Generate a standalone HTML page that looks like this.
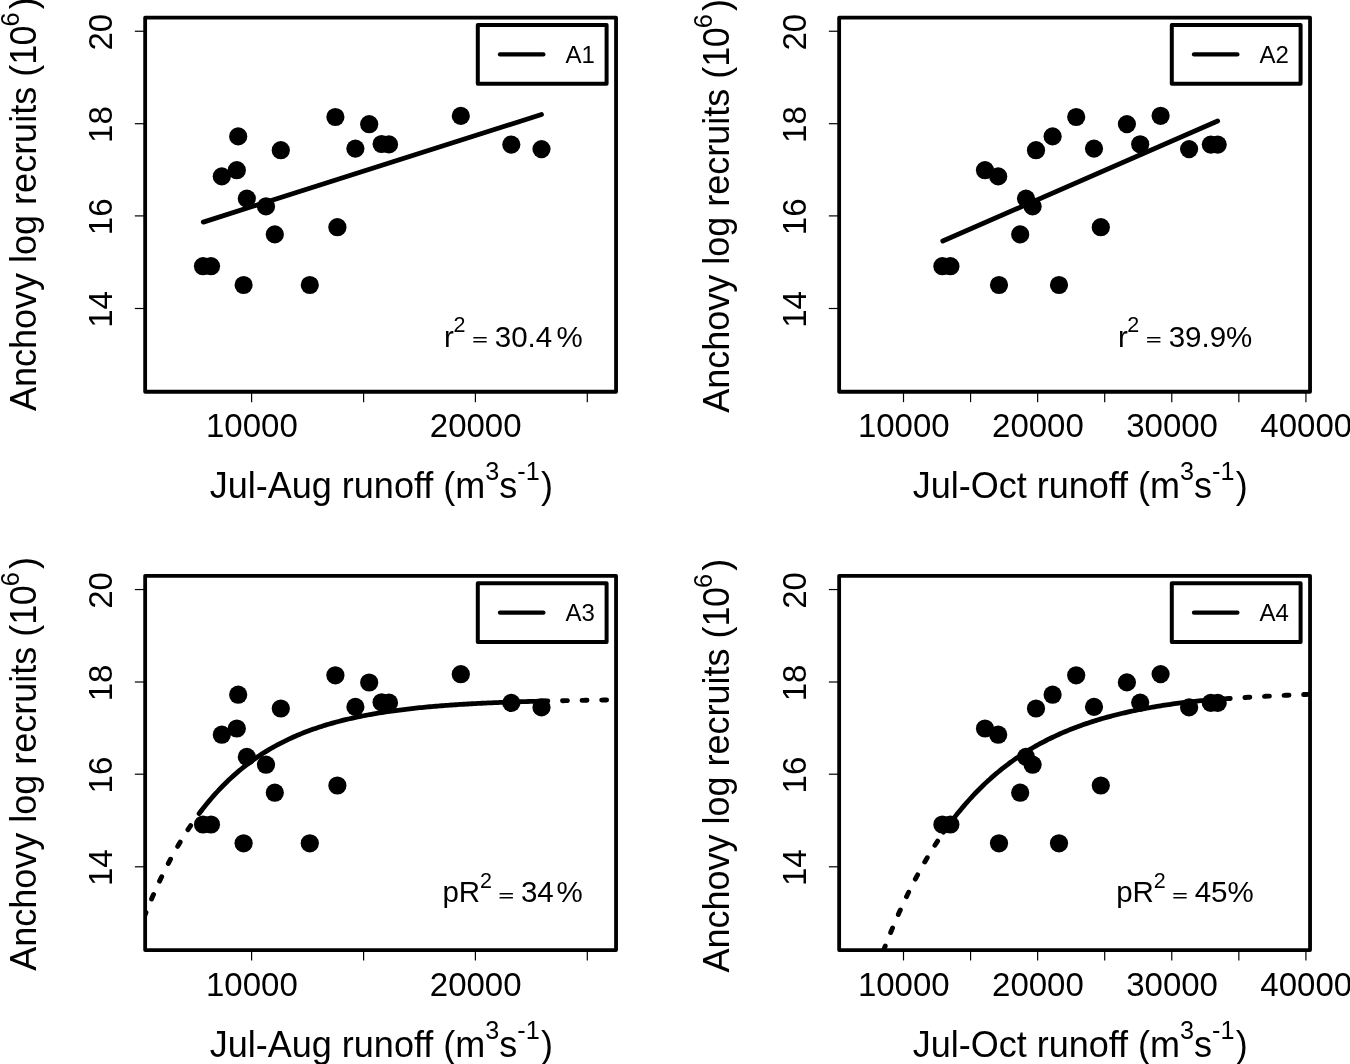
<!DOCTYPE html>
<html><head><meta charset="utf-8"><title>Anchovy recruits vs runoff</title>
<style>
html,body{margin:0;padding:0;background:#fff;}
body{width:1350px;height:1064px;overflow:hidden;}
svg{display:block;will-change:transform;font-family:"Liberation Sans", Arial, Helvetica, sans-serif;fill:#000;}
.tk{stroke:#000;stroke-width:1.2;}
.fr{fill:none;stroke:#000;stroke-width:3.8;stroke-linejoin:round;}
.lg{fill:#fff;stroke:#000;stroke-width:4;stroke-linejoin:round;}
.ln{fill:none;stroke:#000;stroke-width:4.8;stroke-linecap:round;stroke-linejoin:round;}
.dt{stroke-dasharray:4.9 14.7;stroke-width:4.9;}
.ll{stroke:#000;stroke-width:4.3;stroke-linecap:round;}
.tl{font-size:33px;}
.al{font-size:36px;}
.lt{font-size:24px;}
.rt{font-size:29.5px;}
</style></head><body>
<svg width="1350" height="1064" viewBox="0 0 1350 1064">
<rect width="1350" height="1064" fill="#fff"/>
<g transform="translate(0.00 0.00)">
<clipPath id="c0"><rect x="145.15" y="17.55" width="470.90" height="374.20"/></clipPath>
<line x1="134.85" y1="31.25" x2="145.15" y2="31.25" class="tk"/>
<text class="tl" text-anchor="middle" transform="translate(111.6 32.15) rotate(-90)">20</text>
<line x1="134.85" y1="123.70" x2="145.15" y2="123.70" class="tk"/>
<text class="tl" text-anchor="middle" transform="translate(111.6 124.60) rotate(-90)">18</text>
<line x1="134.85" y1="215.90" x2="145.15" y2="215.90" class="tk"/>
<text class="tl" text-anchor="middle" transform="translate(111.6 216.80) rotate(-90)">16</text>
<line x1="134.85" y1="308.50" x2="145.15" y2="308.50" class="tk"/>
<text class="tl" text-anchor="middle" transform="translate(111.6 309.40) rotate(-90)">14</text>
<line x1="251.60" y1="391.75" x2="251.60" y2="402.15" class="tk"/>
<text class="tl" text-anchor="middle" x="251.90" y="437.4">10000</text>
<line x1="363.60" y1="391.75" x2="363.60" y2="402.15" class="tk"/>
<line x1="475.40" y1="391.75" x2="475.40" y2="402.15" class="tk"/>
<text class="tl" text-anchor="middle" x="475.70" y="437.4">20000</text>
<line x1="587.30" y1="391.75" x2="587.30" y2="402.15" class="tk"/>
<g clip-path="url(#c0)">
<circle cx="203.0" cy="266.2" r="9.1"/>
<circle cx="211.0" cy="266.2" r="9.1"/>
<circle cx="221.8" cy="176.4" r="9.1"/>
<circle cx="236.8" cy="170.2" r="9.1"/>
<circle cx="238.2" cy="136.4" r="9.1"/>
<circle cx="246.8" cy="198.6" r="9.1"/>
<circle cx="243.6" cy="285.0" r="9.1"/>
<circle cx="266.0" cy="206.4" r="9.1"/>
<circle cx="274.8" cy="234.4" r="9.1"/>
<circle cx="280.8" cy="150.2" r="9.1"/>
<circle cx="309.8" cy="285.0" r="9.1"/>
<circle cx="335.4" cy="117.0" r="9.1"/>
<circle cx="337.4" cy="227.2" r="9.1"/>
<circle cx="355.4" cy="148.6" r="9.1"/>
<circle cx="369.2" cy="124.2" r="9.1"/>
<circle cx="381.6" cy="144.0" r="9.1"/>
<circle cx="389.0" cy="144.4" r="9.1"/>
<circle cx="460.8" cy="115.9" r="9.1"/>
<circle cx="511.3" cy="144.6" r="9.1"/>
<circle cx="541.5" cy="149.1" r="9.1"/>
<line class="ln" x1="203.3" y1="222.1" x2="541.5" y2="114.5"/>
</g>
<rect class="fr" x="145.15" y="17.55" width="470.90" height="374.20"/>
<rect class="lg" x="477.8" y="25.05" width="128.8" height="58.65"/>
<line class="ll" x1="500" y1="54.4" x2="543.4" y2="54.4"/>
<text class="lt" x="565.6" y="63">A1</text>
<text class="rt" y="346.5"><tspan x="443.9">r</tspan><tspan x="453.5" font-size="21.5" dy="-14.4">2</tspan><tspan dy="14.4"> </tspan><tspan x="494.8">30.4</tspan><tspan x="556.6">%</tspan></text><text class="rt" font-weight="bold" transform="translate(472.3 345.25) scale(0.9 0.5)">=</text>
<text class="al" x="209.8" y="497.9">Jul-Aug runoff (m<tspan font-size="25.2" dy="-17.5">3</tspan><tspan dy="17.5">s</tspan><tspan font-size="25.2" dy="-17.5">-1</tspan><tspan dy="17.5" dx="1.3">)</tspan></text>
<text class="al" transform="translate(36.2 411.0) rotate(-90)">Anchovy log recruits (1<tspan dx="-0.6">0</tspan><tspan font-size="25.2" dy="-17.5" dx="-1.1">6</tspan><tspan dy="17.5" dx="3.3">)</tspan></text>
</g>
<g transform="translate(694.00 0.00)">
<clipPath id="c1"><rect x="145.15" y="17.55" width="470.90" height="374.20"/></clipPath>
<line x1="134.85" y1="31.25" x2="145.15" y2="31.25" class="tk"/>
<text class="tl" text-anchor="middle" transform="translate(111.6 32.15) rotate(-90)">20</text>
<line x1="134.85" y1="123.70" x2="145.15" y2="123.70" class="tk"/>
<text class="tl" text-anchor="middle" transform="translate(111.6 124.60) rotate(-90)">18</text>
<line x1="134.85" y1="215.90" x2="145.15" y2="215.90" class="tk"/>
<text class="tl" text-anchor="middle" transform="translate(111.6 216.80) rotate(-90)">16</text>
<line x1="134.85" y1="308.50" x2="145.15" y2="308.50" class="tk"/>
<text class="tl" text-anchor="middle" transform="translate(111.6 309.40) rotate(-90)">14</text>
<line x1="209.50" y1="391.75" x2="209.50" y2="402.15" class="tk"/>
<text class="tl" text-anchor="middle" x="209.80" y="437.4">10000</text>
<line x1="276.57" y1="391.75" x2="276.57" y2="402.15" class="tk"/>
<line x1="343.64" y1="391.75" x2="343.64" y2="402.15" class="tk"/>
<text class="tl" text-anchor="middle" x="343.94" y="437.4">20000</text>
<line x1="410.71" y1="391.75" x2="410.71" y2="402.15" class="tk"/>
<line x1="477.78" y1="391.75" x2="477.78" y2="402.15" class="tk"/>
<text class="tl" text-anchor="middle" x="478.08" y="437.4">30000</text>
<line x1="544.85" y1="391.75" x2="544.85" y2="402.15" class="tk"/>
<line x1="611.92" y1="391.75" x2="611.92" y2="402.15" class="tk"/>
<text class="tl" text-anchor="middle" x="612.22" y="437.4">40000</text>
<g clip-path="url(#c1)">
<circle cx="248.4" cy="266.2" r="9.1"/>
<circle cx="256.4" cy="266.2" r="9.1"/>
<circle cx="291.0" cy="170.2" r="9.1"/>
<circle cx="304.2" cy="176.4" r="9.1"/>
<circle cx="305.0" cy="285.0" r="9.1"/>
<circle cx="326.2" cy="234.4" r="9.1"/>
<circle cx="332.0" cy="198.6" r="9.1"/>
<circle cx="338.6" cy="206.4" r="9.1"/>
<circle cx="342.0" cy="150.2" r="9.1"/>
<circle cx="358.6" cy="136.4" r="9.1"/>
<circle cx="365.0" cy="285.0" r="9.1"/>
<circle cx="382.2" cy="117.0" r="9.1"/>
<circle cx="400.0" cy="148.6" r="9.1"/>
<circle cx="406.8" cy="227.2" r="9.1"/>
<circle cx="432.9" cy="124.1" r="9.1"/>
<circle cx="446.2" cy="144.3" r="9.1"/>
<circle cx="466.6" cy="115.8" r="9.1"/>
<circle cx="495.1" cy="149.1" r="9.1"/>
<circle cx="516.8" cy="144.6" r="9.1"/>
<circle cx="523.7" cy="144.6" r="9.1"/>
<line class="ln" x1="248.8" y1="241" x2="523.7" y2="121"/>
</g>
<rect class="fr" x="145.15" y="17.55" width="470.90" height="374.20"/>
<rect class="lg" x="477.8" y="25.05" width="128.8" height="58.65"/>
<line class="ll" x1="500" y1="54.4" x2="543.4" y2="54.4"/>
<text class="lt" x="565.6" y="63">A2</text>
<text class="rt" y="346.5"><tspan x="424.0">r</tspan><tspan x="433.3" font-size="21.5" dy="-14.4">2</tspan><tspan dy="14.4"> </tspan><tspan x="474.7">39.9%</tspan></text><text class="rt" font-weight="bold" transform="translate(452.1 345.25) scale(0.9 0.5)">=</text>
<text class="al" x="218.7" y="497.9">Jul-Oct runoff (m<tspan font-size="25.2" dy="-17.5">3</tspan><tspan dy="17.5">s</tspan><tspan font-size="25.2" dy="-17.5">-1</tspan><tspan dy="17.5" dx="1.3">)</tspan></text>
<text class="al" transform="translate(35.2 412.8) rotate(-90)">Anchovy log recruits (1<tspan dx="-0.6">0</tspan><tspan font-size="25.2" dy="-17.5" dx="-1.1">6</tspan><tspan dy="17.5" dx="3.3">)</tspan></text>
</g>
<g transform="translate(0.00 558.30)">
<clipPath id="c2"><rect x="145.15" y="17.55" width="470.90" height="374.20"/></clipPath>
<line x1="134.85" y1="31.25" x2="145.15" y2="31.25" class="tk"/>
<text class="tl" text-anchor="middle" transform="translate(111.6 32.15) rotate(-90)">20</text>
<line x1="134.85" y1="123.70" x2="145.15" y2="123.70" class="tk"/>
<text class="tl" text-anchor="middle" transform="translate(111.6 124.60) rotate(-90)">18</text>
<line x1="134.85" y1="215.90" x2="145.15" y2="215.90" class="tk"/>
<text class="tl" text-anchor="middle" transform="translate(111.6 216.80) rotate(-90)">16</text>
<line x1="134.85" y1="308.50" x2="145.15" y2="308.50" class="tk"/>
<text class="tl" text-anchor="middle" transform="translate(111.6 309.40) rotate(-90)">14</text>
<line x1="251.60" y1="391.75" x2="251.60" y2="402.15" class="tk"/>
<text class="tl" text-anchor="middle" x="251.90" y="437.4">10000</text>
<line x1="363.60" y1="391.75" x2="363.60" y2="402.15" class="tk"/>
<line x1="475.40" y1="391.75" x2="475.40" y2="402.15" class="tk"/>
<text class="tl" text-anchor="middle" x="475.70" y="437.4">20000</text>
<line x1="587.30" y1="391.75" x2="587.30" y2="402.15" class="tk"/>
<g clip-path="url(#c2)">
<circle cx="203.0" cy="266.2" r="9.1"/>
<circle cx="211.0" cy="266.2" r="9.1"/>
<circle cx="221.8" cy="176.4" r="9.1"/>
<circle cx="236.8" cy="170.2" r="9.1"/>
<circle cx="238.2" cy="136.4" r="9.1"/>
<circle cx="246.8" cy="198.6" r="9.1"/>
<circle cx="243.6" cy="285.0" r="9.1"/>
<circle cx="266.0" cy="206.4" r="9.1"/>
<circle cx="274.8" cy="234.4" r="9.1"/>
<circle cx="280.8" cy="150.2" r="9.1"/>
<circle cx="309.8" cy="285.0" r="9.1"/>
<circle cx="335.4" cy="117.0" r="9.1"/>
<circle cx="337.4" cy="227.2" r="9.1"/>
<circle cx="355.4" cy="148.6" r="9.1"/>
<circle cx="369.2" cy="124.2" r="9.1"/>
<circle cx="381.6" cy="144.0" r="9.1"/>
<circle cx="389.0" cy="144.4" r="9.1"/>
<circle cx="460.8" cy="115.9" r="9.1"/>
<circle cx="511.3" cy="144.6" r="9.1"/>
<circle cx="541.5" cy="149.1" r="9.1"/>
<path class="ln" d="M201.20 252.59 L203.20 249.99 L205.21 247.46 L207.21 244.99 L209.22 242.57 L211.22 240.21 L213.23 237.90 L215.23 235.65 L217.24 233.45 L219.24 231.30 L221.25 229.20 L223.25 227.15 L225.26 225.14 L227.26 223.19 L229.27 221.27 L231.27 219.41 L233.27 217.58 L235.28 215.80 L237.28 214.06 L239.29 212.36 L241.29 210.70 L243.30 209.08 L245.30 207.49 L247.31 205.95 L249.31 204.43 L251.32 202.96 L253.32 201.51 L255.33 200.11 L257.33 198.73 L259.33 197.38 L261.34 196.07 L263.34 194.79 L265.35 193.54 L267.35 192.31 L269.36 191.12 L271.36 189.95 L273.37 188.81 L275.37 187.69 L277.38 186.60 L279.38 185.54 L281.39 184.50 L283.39 183.49 L285.40 182.50 L287.40 181.53 L289.40 180.58 L291.41 179.66 L293.41 178.76 L295.42 177.88 L297.42 177.02 L299.43 176.17 L301.43 175.35 L303.44 174.55 L305.44 173.77 L307.45 173.00 L309.45 172.25 L311.46 171.52 L313.46 170.81 L315.47 170.11 L317.47 169.43 L319.47 168.77 L321.48 168.12 L323.48 167.48 L325.49 166.86 L327.49 166.26 L329.50 165.67 L331.50 165.09 L333.51 164.52 L335.51 163.97 L337.52 163.44 L339.52 162.91 L341.53 162.40 L343.53 161.89 L345.53 161.40 L347.54 160.92 L349.54 160.46 L351.55 160.00 L353.55 159.55 L355.56 159.12 L357.56 158.69 L359.57 158.28 L361.57 157.87 L363.58 157.47 L365.58 157.09 L367.59 156.71 L369.59 156.34 L371.60 155.98 L373.60 155.62 L375.60 155.28 L377.61 154.94 L379.61 154.61 L381.62 154.29 L383.62 153.98 L385.63 153.67 L387.63 153.37 L389.64 153.08 L391.64 152.79 L393.65 152.51 L395.65 152.24 L397.66 151.98 L399.66 151.72 L401.67 151.46 L403.67 151.21 L405.67 150.97 L407.68 150.73 L409.68 150.50 L411.69 150.28 L413.69 150.06 L415.70 149.84 L417.70 149.63 L419.71 149.42 L421.71 149.22 L423.72 149.03 L425.72 148.83 L427.73 148.65 L429.73 148.46 L431.73 148.29 L433.74 148.11 L435.74 147.94 L437.75 147.77 L439.75 147.61 L441.76 147.45 L443.76 147.30 L445.77 147.15 L447.77 147.00 L449.78 146.85 L451.78 146.71 L453.79 146.57 L455.79 146.44 L457.80 146.31 L459.80 146.18 L461.80 146.05 L463.81 145.93 L465.81 145.81 L467.82 145.69 L469.82 145.58 L471.83 145.47 L473.83 145.36 L475.84 145.25 L477.84 145.15 L479.85 145.05 L481.85 144.95 L483.86 144.85 L485.86 144.75 L487.87 144.66 L489.87 144.57 L491.87 144.48 L493.88 144.40 L495.88 144.31 L497.89 144.23 L499.89 144.15 L501.90 144.07 L503.90 143.99 L505.91 143.92 L507.91 143.85 L509.92 143.77 L511.92 143.70 L513.93 143.64 L515.93 143.57 L517.93 143.50 L519.94 143.44 L521.94 143.38 L523.95 143.32 L525.95 143.26 L527.96 143.20 L529.96 143.14 L531.97 143.09 L533.97 143.03 L535.98 142.98 L537.98 142.93 L539.99 142.88 L541.99 142.83 L544.00 142.78 L546.00 142.74"/>
<path class="ln dt" stroke-dashoffset="1.5" d="M201.20 252.59 L199.17 255.28 L197.13 258.04 L195.10 260.87 L193.06 263.76 L191.03 266.73 L188.99 269.76 L186.96 272.87 L184.93 276.06 L182.89 279.32 L180.86 282.66 L178.82 286.08 L176.79 289.58 L174.75 293.16 L172.72 296.84 L170.69 300.60 L168.65 304.45 L166.62 308.39 L164.58 312.43 L162.55 316.57 L160.51 320.81 L158.48 325.15 L156.45 329.59 L154.41 334.14 L152.38 338.80 L150.34 343.57 L148.31 348.46 L146.27 353.47 L144.24 358.59 L142.21 363.84 L140.17 369.22 L138.14 374.72 L136.10 380.36 L134.07 386.14 L132.03 392.05 L130.00 398.10"/>
<path class="ln dt" d="M542.90 142.81 L544.92 142.76 L546.95 142.71 L548.97 142.67 L550.99 142.62 L553.01 142.58 L555.04 142.54 L557.06 142.50 L559.08 142.45 L561.11 142.42 L563.13 142.38 L565.15 142.34 L567.17 142.30 L569.20 142.27 L571.22 142.23 L573.24 142.20 L575.27 142.16 L577.29 142.13 L579.31 142.10 L581.34 142.07 L583.36 142.04 L585.38 142.01 L587.40 141.98 L589.43 141.95 L591.45 141.92 L593.47 141.89 L595.50 141.87 L597.52 141.84 L599.54 141.82 L601.56 141.79 L603.59 141.77 L605.61 141.74 L607.63 141.72 L609.66 141.70 L611.68 141.68 L613.70 141.65 L615.73 141.63 L617.75 141.61 L619.77 141.59 L621.79 141.57 L623.82 141.55 L625.84 141.54 L627.86 141.52 L629.89 141.50 L631.91 141.48 L633.93 141.47 L635.95 141.45 L637.98 141.43 L640.00 141.42"/>
</g>
<rect class="fr" x="145.15" y="17.55" width="470.90" height="374.20"/>
<rect class="lg" x="477.8" y="25.05" width="128.8" height="58.65"/>
<line class="ll" x1="500" y1="54.4" x2="543.4" y2="54.4"/>
<text class="lt" x="565.6" y="63">A3</text>
<text class="rt" y="343.8"><tspan x="442.4">pR</tspan><tspan x="480.1" font-size="21.5" dy="-14.4">2</tspan><tspan dy="14.4"> </tspan><tspan x="520.9">34</tspan><tspan x="556.6">%</tspan></text><text class="rt" font-weight="bold" transform="translate(498.4 342.55) scale(0.9 0.5)">=</text>
<text class="al" x="209.8" y="498.5">Jul-Aug runoff (m<tspan font-size="25.2" dy="-17.5">3</tspan><tspan dy="17.5">s</tspan><tspan font-size="25.2" dy="-17.5">-1</tspan><tspan dy="17.5" dx="1.3">)</tspan></text>
<text class="al" transform="translate(36.2 412.5) rotate(-90)">Anchovy log recruits (1<tspan dx="-0.6">0</tspan><tspan font-size="25.2" dy="-17.5" dx="-1.1">6</tspan><tspan dy="17.5" dx="3.3">)</tspan></text>
</g>
<g transform="translate(694.00 558.30)">
<clipPath id="c3"><rect x="145.15" y="17.55" width="470.90" height="374.20"/></clipPath>
<line x1="134.85" y1="31.25" x2="145.15" y2="31.25" class="tk"/>
<text class="tl" text-anchor="middle" transform="translate(111.6 32.15) rotate(-90)">20</text>
<line x1="134.85" y1="123.70" x2="145.15" y2="123.70" class="tk"/>
<text class="tl" text-anchor="middle" transform="translate(111.6 124.60) rotate(-90)">18</text>
<line x1="134.85" y1="215.90" x2="145.15" y2="215.90" class="tk"/>
<text class="tl" text-anchor="middle" transform="translate(111.6 216.80) rotate(-90)">16</text>
<line x1="134.85" y1="308.50" x2="145.15" y2="308.50" class="tk"/>
<text class="tl" text-anchor="middle" transform="translate(111.6 309.40) rotate(-90)">14</text>
<line x1="209.50" y1="391.75" x2="209.50" y2="402.15" class="tk"/>
<text class="tl" text-anchor="middle" x="209.80" y="437.4">10000</text>
<line x1="276.57" y1="391.75" x2="276.57" y2="402.15" class="tk"/>
<line x1="343.64" y1="391.75" x2="343.64" y2="402.15" class="tk"/>
<text class="tl" text-anchor="middle" x="343.94" y="437.4">20000</text>
<line x1="410.71" y1="391.75" x2="410.71" y2="402.15" class="tk"/>
<line x1="477.78" y1="391.75" x2="477.78" y2="402.15" class="tk"/>
<text class="tl" text-anchor="middle" x="478.08" y="437.4">30000</text>
<line x1="544.85" y1="391.75" x2="544.85" y2="402.15" class="tk"/>
<line x1="611.92" y1="391.75" x2="611.92" y2="402.15" class="tk"/>
<text class="tl" text-anchor="middle" x="612.22" y="437.4">40000</text>
<g clip-path="url(#c3)">
<circle cx="248.4" cy="266.2" r="9.1"/>
<circle cx="256.4" cy="266.2" r="9.1"/>
<circle cx="291.0" cy="170.2" r="9.1"/>
<circle cx="304.2" cy="176.4" r="9.1"/>
<circle cx="305.0" cy="285.0" r="9.1"/>
<circle cx="326.2" cy="234.4" r="9.1"/>
<circle cx="332.0" cy="198.6" r="9.1"/>
<circle cx="338.6" cy="206.4" r="9.1"/>
<circle cx="342.0" cy="150.2" r="9.1"/>
<circle cx="358.6" cy="136.4" r="9.1"/>
<circle cx="365.0" cy="285.0" r="9.1"/>
<circle cx="382.2" cy="117.0" r="9.1"/>
<circle cx="400.0" cy="148.6" r="9.1"/>
<circle cx="406.8" cy="227.2" r="9.1"/>
<circle cx="432.9" cy="124.1" r="9.1"/>
<circle cx="446.2" cy="144.3" r="9.1"/>
<circle cx="466.6" cy="115.8" r="9.1"/>
<circle cx="495.1" cy="149.1" r="9.1"/>
<circle cx="516.8" cy="144.6" r="9.1"/>
<circle cx="523.7" cy="144.6" r="9.1"/>
<path class="ln" d="M249.60 273.88 L251.61 271.03 L253.62 268.23 L255.63 265.49 L257.64 262.80 L259.65 260.17 L261.66 257.59 L263.67 255.07 L265.68 252.59 L267.69 250.16 L269.70 247.79 L271.71 245.46 L273.72 243.17 L275.73 240.93 L277.74 238.74 L279.75 236.59 L281.76 234.48 L283.77 232.42 L285.78 230.40 L287.79 228.42 L289.80 226.47 L291.81 224.57 L293.82 222.70 L295.83 220.88 L297.84 219.08 L299.85 217.33 L301.86 215.61 L303.87 213.92 L305.88 212.27 L307.89 210.65 L309.90 209.07 L311.91 207.51 L313.92 205.99 L315.93 204.49 L317.94 203.03 L319.95 201.60 L321.95 200.19 L323.96 198.81 L325.97 197.47 L327.98 196.14 L329.99 194.85 L332.00 193.58 L334.01 192.33 L336.02 191.11 L338.03 189.92 L340.04 188.75 L342.05 187.60 L344.06 186.47 L346.07 185.37 L348.08 184.29 L350.09 183.23 L352.10 182.20 L354.11 181.18 L356.12 180.18 L358.13 179.21 L360.14 178.25 L362.15 177.31 L364.16 176.40 L366.17 175.49 L368.18 174.61 L370.19 173.75 L372.20 172.90 L374.21 172.07 L376.22 171.26 L378.23 170.46 L380.24 169.68 L382.25 168.91 L384.26 168.16 L386.27 167.43 L388.28 166.71 L390.29 166.00 L392.30 165.31 L394.31 164.63 L396.32 163.97 L398.33 163.31 L400.34 162.68 L402.35 162.05 L404.36 161.44 L406.37 160.84 L408.38 160.25 L410.39 159.67 L412.40 159.11 L414.41 158.55 L416.42 158.01 L418.43 157.48 L420.44 156.96 L422.45 156.45 L424.46 155.95 L426.47 155.46 L428.48 154.98 L430.49 154.51 L432.50 154.04 L434.51 153.59 L436.52 153.15 L438.53 152.72 L440.54 152.29 L442.55 151.87 L444.56 151.47 L446.57 151.07 L448.58 150.67 L450.59 150.29 L452.60 149.91 L454.61 149.55 L456.62 149.19 L458.63 148.83 L460.64 148.49 L462.65 148.15 L464.65 147.82 L466.66 147.49 L468.67 147.18 L470.68 146.87 L472.69 146.56 L474.70 146.27 L476.71 145.98 L478.72 145.69 L480.73 145.42 L482.74 145.15 L484.75 144.88 L486.76 144.63 L488.77 144.38 L490.78 144.13 L492.79 143.90 L494.80 143.67 L496.81 143.44 L498.82 143.23 L500.83 143.01 L502.84 142.81 L504.85 142.61 L506.86 142.42 L508.87 142.23 L510.88 142.05 L512.89 141.88 L514.90 141.71 L516.91 141.54 L518.92 141.38 L520.93 141.23 L522.94 141.08 L524.95 140.93 L526.96 140.78 L528.97 140.64 L530.98 140.50 L532.99 140.36 L535.00 140.22"/>
<path class="ln dt" stroke-dashoffset="9.55" d="M249.20 274.45 L247.17 277.41 L245.13 280.43 L243.10 283.51 L241.07 286.66 L239.03 289.87 L237.00 293.14 L234.97 296.49 L232.93 299.90 L230.90 303.39 L228.87 306.94 L226.83 310.57 L224.80 314.28 L222.77 318.06 L220.73 321.92 L218.70 325.86 L216.67 329.88 L214.63 333.98 L212.60 338.17 L210.57 342.45 L208.53 346.81 L206.50 351.27 L204.47 355.81 L202.43 360.45 L200.40 365.19 L198.37 370.03 L196.33 374.96 L194.30 380.00 L192.27 385.14 L190.23 390.39 L188.20 395.74 L186.17 401.21 L184.13 406.79 L182.10 412.48 L180.07 418.30 L178.03 424.23 L176.00 430.29"/>
<path class="ln dt" stroke-dashoffset="2.45" d="M533.80 140.30 L535.80 140.17 L537.81 140.03 L539.81 139.90 L541.81 139.77 L543.82 139.64 L545.82 139.51 L547.82 139.39 L549.83 139.26 L551.83 139.14 L553.84 139.01 L555.84 138.89 L557.84 138.77 L559.85 138.65 L561.85 138.54 L563.85 138.42 L565.86 138.31 L567.86 138.20 L569.86 138.09 L571.87 137.98 L573.87 137.87 L575.88 137.77 L577.88 137.66 L579.88 137.56 L581.89 137.46 L583.89 137.36 L585.89 137.27 L587.90 137.17 L589.90 137.08 L591.90 136.99 L593.91 136.90 L595.91 136.81 L597.91 136.72 L599.92 136.64 L601.92 136.56 L603.92 136.47 L605.93 136.40 L607.93 136.32 L609.94 136.24 L611.94 136.16 L613.94 136.09 L615.95 136.02 L617.95 135.95 L619.95 135.88 L621.96 135.81 L623.96 135.74 L625.96 135.68 L627.97 135.61 L629.97 135.55 L631.98 135.49 L633.98 135.43 L635.98 135.37 L637.99 135.31 L639.99 135.25 L641.99 135.20 L644.00 135.14 L646.00 135.09"/>
</g>
<rect class="fr" x="145.15" y="17.55" width="470.90" height="374.20"/>
<rect class="lg" x="477.8" y="25.05" width="128.8" height="58.65"/>
<line class="ll" x1="500" y1="54.4" x2="543.4" y2="54.4"/>
<text class="lt" x="565.6" y="63">A4</text>
<text class="rt" y="343.8"><tspan x="422.2">pR</tspan><tspan x="459.7" font-size="21.5" dy="-14.4">2</tspan><tspan dy="14.4"> </tspan><tspan x="500.7">45%</tspan></text><text class="rt" font-weight="bold" transform="translate(478.2 342.55) scale(0.9 0.5)">=</text>
<text class="al" x="218.7" y="498.5">Jul-Oct runoff (m<tspan font-size="25.2" dy="-17.5">3</tspan><tspan dy="17.5">s</tspan><tspan font-size="25.2" dy="-17.5">-1</tspan><tspan dy="17.5" dx="1.3">)</tspan></text>
<text class="al" transform="translate(35.2 414.3) rotate(-90)">Anchovy log recruits (1<tspan dx="-0.6">0</tspan><tspan font-size="25.2" dy="-17.5" dx="-1.1">6</tspan><tspan dy="17.5" dx="3.3">)</tspan></text>
</g>
</svg>
</body></html>
